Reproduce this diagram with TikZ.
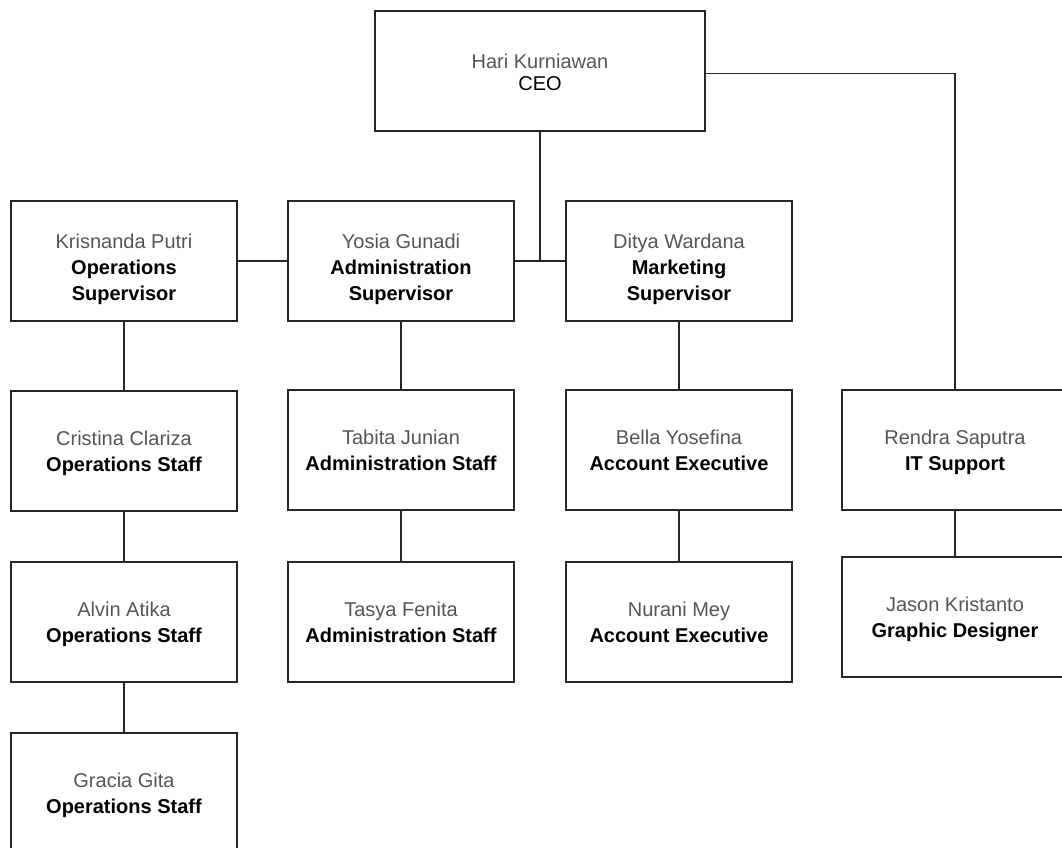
\documentclass[tikz,border=0pt]{standalone}
\usepackage{fontspec}
\setmainfont{Liberation Sans}
\definecolor{namegray}{HTML}{555555}
\definecolor{linegray}{HTML}{262626}

\begin{document}
\begin{tikzpicture}[x=0.75pt, y=-0.75pt,
		person/.style={draw=linegray, line width=1pt, minimum width=169.5pt, minimum height=90pt,
			inner sep=0pt, align=center, text=black, text height=30pt, text depth=0pt,
			font=\fontsize{15}{19.5}\selectfont},
		supervisor/.style={person, text height=58.5pt},
		link/.style={draw=linegray, line width=1pt}]
			\def\nm#1{\textcolor{namegray}{#1}}
			\useasboundingbox (0,0) rectangle (1062,847);
			\clip (0,0) rectangle (1062,847);
			
			% Draw the people
			\node[person, minimum width=247.5pt, text height=28.5pt] (ceo) at (540,71) {\nm{Hari Kurniawan}\\[-3pt]CEO};
			\node[supervisor] (krisnanda) at (124,261) {\nm{Krisnanda Putri}\\\textbf{Operations}\\\textbf{Supervisor}};
			\node[supervisor] (yosia) at (401,261) {\nm{Yosia Gunadi}\\\textbf{Administration}\\\textbf{Supervisor}};
			\node[supervisor] (ditya) at (679,261) {\nm{Ditya Wardana}\\\textbf{Marketing}\\\textbf{Supervisor}};
			\node[person] (cristina) at (124,451) {\nm{Cristina Clariza}\\\textbf{Operations Staff}};
			\node[person] (tabita) at (401,450) {\nm{Tabita Junian}\\\textbf{Administration Staff}};
			\node[person] (bella) at (679,450) {\nm{Bella Yosefina}\\\textbf{Account Executive}};
			\node[person] (rendra) at (955,450) {\nm{Rendra Saputra}\\\textbf{IT Support}};
			\node[person] (alvin) at (124,622) {\nm{Alvin Atika}\\\textbf{Operations Staff}};
			\node[person] (tasya) at (401,622) {\nm{Tasya Fenita}\\\textbf{Administration Staff}};
			\node[person] (nurani) at (679,622) {\nm{Nurani Mey}\\\textbf{Account Executive}};
			\node[person] (jason) at (955,617) {\nm{Jason Kristanto}\\\textbf{Graphic Designer}};
			\node[person] (gracia) at (124,793) {\nm{Gracia Gita}\\\textbf{Operations Staff}};
			
			% Draw the lines
			\coordinate (J) at (ceo.south |- yosia.east); % meets the supervisor line
			\coordinate (R) at ([yshift=-2]ceo.east);
			\draw[link] (krisnanda) -- (yosia);
			\draw[link] (yosia) -- (ditya);
			\draw[link] (ceo.south) -- (J);
			\draw[link] (R) -| (rendra.north);
			\draw[link] (krisnanda) -- (cristina);
			\draw[link] (cristina) -- (alvin);
			\draw[link] (alvin) -- (gracia);
			\draw[link] (yosia) -- (tabita);
			\draw[link] (tabita) -- (tasya);
			\draw[link] (ditya) -- (bella);
			\draw[link] (bella) -- (nurani);
			\draw[link] (rendra) -- (jason);
	\end{tikzpicture}
\end{document}
